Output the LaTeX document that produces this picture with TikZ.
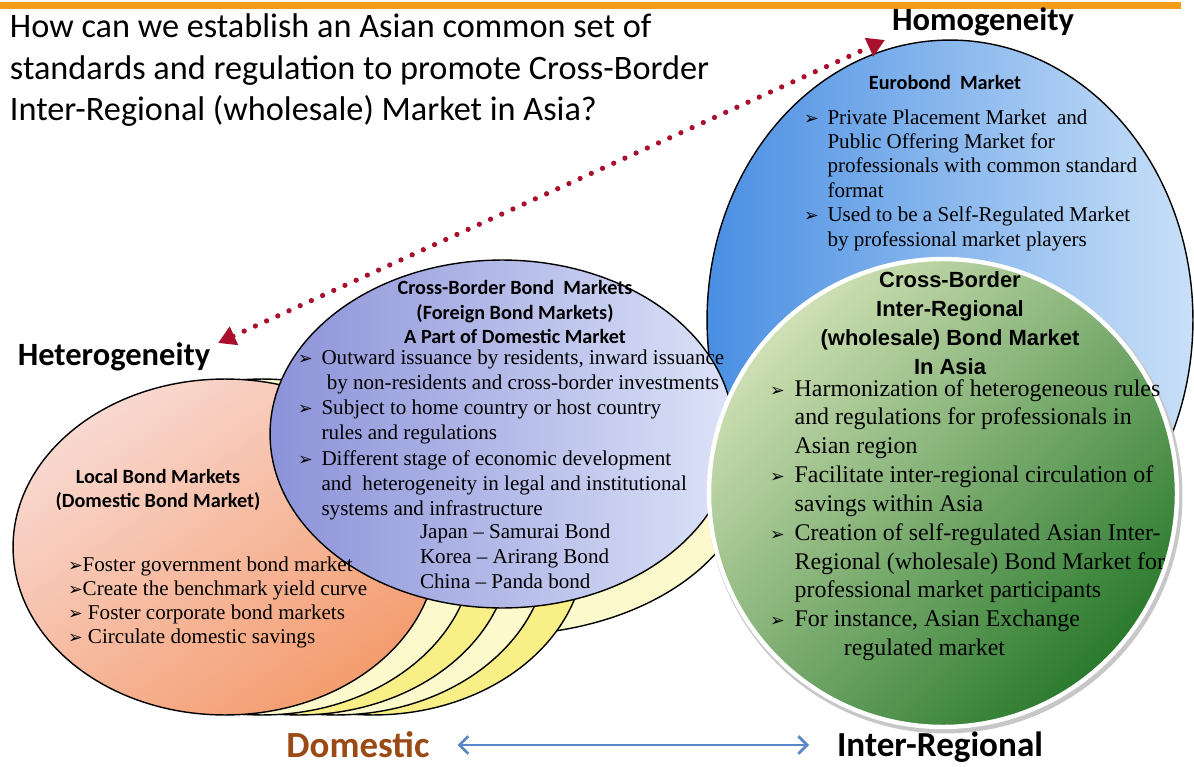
\documentclass[tikz,border=0pt]{standalone}
\usepackage{fontspec}
\setmainfont{Liberation Serif}
\newfontfamily\carfont{Carlito}
\newfontfamily\arialfont{Liberation Sans}
\newfontfamily\dejafont{DejaVu Sans}
\usetikzlibrary{arrows.meta,shapes.geometric,positioning}
\definecolor{barorange}{HTML}{F39B1B}
\definecolor{dotred}{HTML}{A8102E}
\definecolor{spanblue}{HTML}{5B88C6}
\definecolor{dombrown}{HTML}{9A4A14}
\definecolor{eurodark}{HTML}{4A8FE3}
\definecolor{euromid}{HTML}{8DBCF0}
\definecolor{eurolight}{HTML}{C9E0F8}
\definecolor{ypale}{HTML}{FCF9CC}
\definecolor{ystrong}{HTML}{F8EF86}
\definecolor{orpink}{HTML}{F9D9D2}
\definecolor{orsalmon}{HTML}{F49C6E}
\definecolor{cbmdark}{HTML}{8C92D8}
\definecolor{cbmmid}{HTML}{C3CBF0}
\definecolor{cbmlight}{HTML}{DCE3F8}
\definecolor{irmlight}{HTML}{CFE0B4}
\definecolor{irmdark}{HTML}{2A7A2D}
\newcommand{\bul}{{\dejafont\fontsize{10}{10}\selectfont ➢}}

\begin{document}
\begin{tikzpicture}[x=0.02cm,y=-0.02cm]
\tikzstyle{every node}=[inner sep=0pt, outer sep=0pt]
\tikzstyle{bubble}=[ellipse, draw=black, line width=0.8pt]
\tikzstyle{stripe}=[bubble, minimum width=8.48cm, minimum height=6.72cm]
\tikzstyle{head}=[align=center, font=\carfont\bfseries\fontsize{11.5}{14.2}\selectfont]
\tikzstyle{body}=[align=left, anchor=north west]
\tikzstyle{pole}=[font=\carfont\bfseries\fontsize{18.5}{20}\selectfont]
\tikzset{dotline/.style={dotred, line width=3pt, line cap=round, dash pattern=on 0pt off 7pt, {Triangle[length=10pt,width=11pt]}-{Triangle[length=10pt,width=11pt]}}}
\tikzset{span/.style={spanblue, line width=1.6pt, {Straight Barb[length=5pt,width=10pt]}-{Straight Barb[length=5pt,width=10pt]}}}
\useasboundingbox (0,0) rectangle (1194,767);
\fill[barorange] (0,2) rectangle (1181,9);
\node[bubble, minimum width=9.72cm, minimum height=11.2cm, left color=eurodark, middle color=euromid, right color=eurolight] (euro) at (950,320) {};
\node[bubble, minimum width=10cm, minimum height=6.6cm, fill=ypale] (yel5) at (500,470) {};
\foreach \i/\col in {4/ystrong,3/ypale,2/ystrong,1/ypale}
  \node[stripe, fill=\col] (yel\i) at ({225+37*\i},547) {};
\node[stripe, top color=orpink, bottom color=orsalmon, shading angle=35] (local) at (225,547) {};
\node[bubble, minimum width=9.28cm, minimum height=6.96cm, left color=cbmdark, middle color=cbmmid, right color=cbmlight] (cbm) at (502,434) {};
\node[circle, minimum size=9.5cm, fill=black!22] (irmglow) at (945,496) {};
\node[circle, minimum size=9.36cm, draw=white, line width=2.5pt, top color=irmlight, bottom color=irmdark, shading angle=45] (irm) at (943,493) {};
\node[body, font=\carfont\fontsize{19.5}{23.5}\selectfont] (question) at (10,14) {How can we establish an Asian common set of\\standards and regulation to promote Cross-Border\\Inter-Regional (wholesale) Market in Asia?};
\node[pole] (homog) at (983,22) {Homogeneity};
\node[pole] (heterog) at (114,357) {Heterogeneity};
\coordinate (hetpt) at (218,343);
\coordinate (hompt) at (885,40);
\draw[dotline] (hetpt) -- (hompt);
\node[head] (eurohead) at (945,82) {Eurobond\ \ Market};
\node[body, font=\fontsize{12}{13.9}\selectfont] (eurotext) at (804,107) {\begin{tabular}{@{}l@{\ \,}l@{}}
\bul & Private Placement Market\ \ and\\
 & Public Offering Market for\\
 & professionals with common standard\\
 & format\\
\bul & Used to be a Self-Regulated Market\\
 & by professional market players
\end{tabular}};
\node[head] (cbmhead) at (515,312) {Cross-Border Bond\ \ Markets\\(Foreign Bond Markets)\\A Part of Domestic Market};
\node[body, font=\fontsize{12}{14.3}\selectfont] (cbmtext) at (298,347) {\begin{tabular}{@{}l@{\ \,}l@{}}
\bul & Outward issuance by residents, inward issuance\\
 & \ by non-residents and cross-border investments\\
\bul & Subject to home country or host country\\
 & rules and regulations\\
\bul & Different stage of economic development\\
 & and\ \ heterogeneity in legal and institutional\\
 & systems and infrastructure
\end{tabular}};
\node[body, font=\fontsize{12}{14.3}\selectfont] (cbmcases) at (420,524) {Japan -- Samurai Bond\\Korea -- Arirang Bond\\China -- Panda bond};
\node[head, font=\carfont\bfseries\fontsize{11.5}{13.6}\selectfont] (localhead) at (158,490) {Local Bond Markets\\(Domestic Bond Market)};
\node[body, font=\fontsize{12}{13.6}\selectfont] (localtext) at (68,557) {\bul Foster government bond market\\\bul Create the benchmark yield curve\\\bul\ Foster corporate bond markets\\\bul\ Circulate domestic savings};
\node[align=center, font=\arialfont\bfseries\fontsize{12.5}{16.4}\selectfont] (irmhead) at (950,323) {Cross-Border\\Inter-Regional\\(wholesale) Bond Market\\In Asia};
\node[body, font=\fontsize{13.6}{16.4}\selectfont] (irmtext) at (770,376) {\begin{tabular}{@{}l@{\ \,}l@{}}
\bul & Harmonization of heterogeneous rules\\
 & and regulations for professionals in\\
 & Asian region\\
\bul & Facilitate inter-regional circulation of\\
 & savings within Asia\\
\bul & Creation of self-regulated Asian Inter-\\
 & Regional (wholesale) Bond Market for\\
 & professional market participants\\
\bul & For instance, Asian Exchange\\
 & \hspace{28pt}regulated market
\end{tabular}};
\node[font=\carfont\bfseries\fontsize{21}{24}\selectfont, text=dombrown] (domestic) at (358,745) {Domestic};
\node[font=\carfont\bfseries\fontsize{20}{24}\selectfont] (interreg) at (940,747) {Inter-Regional};
\draw[span, shorten <=0.56cm, shorten >=0.56cm] (domestic.east) -- (domestic.east -| interreg.west);
\end{tikzpicture}
\end{document}
